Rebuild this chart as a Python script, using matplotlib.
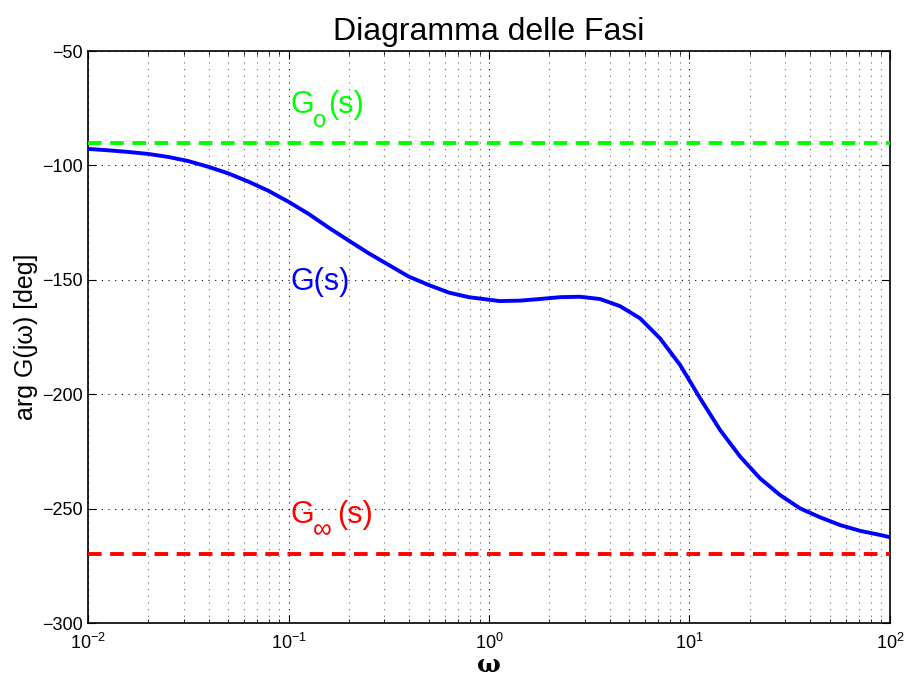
import numpy as np
import matplotlib
matplotlib.use("Agg")
from matplotlib import pyplot as plt
from matplotlib.ticker import LogLocator, NullFormatter

plt.rcParams['font.family'] = ['Liberation Sans', 'DejaVu Sans']

# fase di G(jw) letta per punti (w in rad/s, fase in gradi)
w = [0.01, 0.0126, 0.0158, 0.02, 0.0251, 0.0316, 0.0398, 0.0501, 0.0631, 0.0794,
     0.1, 0.126, 0.158, 0.2, 0.251, 0.316, 0.398, 0.501, 0.631, 0.794,
     1.0, 1.13, 1.43, 1.79, 2.26, 2.84, 3.58, 4.5, 5.66, 7.13,
     8.97, 11.3, 14.2, 17.9, 22.5, 28.3, 35.6, 44.8, 56.4, 70.8,
     89.1, 100.0]
fase = [-92.8, -93.4, -94.1, -95.0, -96.3, -98.1, -100.6, -103.5, -107.1, -111.1,
        -115.9, -121.2, -127.1, -132.9, -138.4, -143.5, -148.6, -152.3, -155.6, -157.6,
        -158.7, -159.3, -159.1, -158.4, -157.6, -157.4, -158.4, -161.5, -166.8, -175.6,
        -187.2, -201.8, -215.6, -227.3, -236.8, -244.1, -249.9, -253.8, -257.2, -259.7,
        -261.5, -262.5]
fase_0 = -90     # G_o(s)
fase_inf = -270  # G_inf(s)

fig = plt.figure(figsize=(9.07, 6.75), dpi=100)
ax = fig.add_axes([88/907, 1 - 623/675, 802/907, 572/675])

ax.semilogx(w, fase, color=(0, 0, 1), lw=2.8, solid_joinstyle='round', zorder=3)
ax.axhline(fase_0, color=(0, 1, 0), lw=2.8, ls=(0, (3.5, 2.2)), zorder=3)
ax.axhline(fase_inf, color=(1, 0, 0), lw=2.8, ls=(0, (3.5, 2.2)), zorder=3)

# etichette con pedice fatte a pezzi (offset in pixel)
def etichetta(y, pedice, col, dx_ped, dx_par, fs_ped):
    kw = dict(xycoords='data', textcoords='offset pixels', color=col,
              ha='left', va='baseline')
    ax.annotate('G', (0.1, y), xytext=(2, 0), fontsize=22, **kw)
    ax.annotate(pedice, (0.1, y), xytext=(dx_ped, -14), fontsize=fs_ped, **kw)
    ax.annotate('(s)', (0.1, y), xytext=(dx_par, 0), fontsize=22, **kw)

etichetta(-77.1, 'o', (0, 1, 0), 25, 40, 17)
etichetta(-256.3, '\u221e', (1, 0, 0), 24, 49, 19)
ax.annotate('G(s)', (0.1, -154.5), xytext=(2, 0), textcoords='offset pixels',
            color=(0, 0, 1), fontsize=22, ha='left', va='baseline')

ax.set_xlim(1e-2, 1e2)
ax.set_ylim(-300, -50)
ax.set_yticks([-300, -250, -200, -150, -100, -50])
ax.xaxis.set_major_locator(LogLocator(base=10, numticks=10))
ax.xaxis.set_minor_locator(LogLocator(base=10, subs=np.arange(2, 10), numticks=100))
ax.xaxis.set_minor_formatter(NullFormatter())
ax.grid(True, which='major', ls=(0, (1, 5)), color='k', lw=0.8)
ax.grid(True, which='minor', axis='x', ls=(0, (1, 5)), color='k', lw=0.8, alpha=0.6)
ax.tick_params(which='both', direction='in', top=True, right=True, labelsize=13)
ax.tick_params(axis='x', which='major', pad=7)
ax.tick_params(axis='y', which='major', pad=4)
ax.tick_params(which='major', length=6)
ax.tick_params(which='minor', length=3)
for s in ax.spines.values():
    s.set_linewidth(1.2)

ax.set_title('Diagramma delle Fasi', fontsize=23, pad=8)
ax.set_ylabel('arg G(j\u03c9) [deg]', fontsize=18, labelpad=3)
ax.set_xlabel('\u03c9', fontsize=18, family='DejaVu Serif', fontweight='bold', labelpad=0)

fig.savefig('out.png', dpi=100)
